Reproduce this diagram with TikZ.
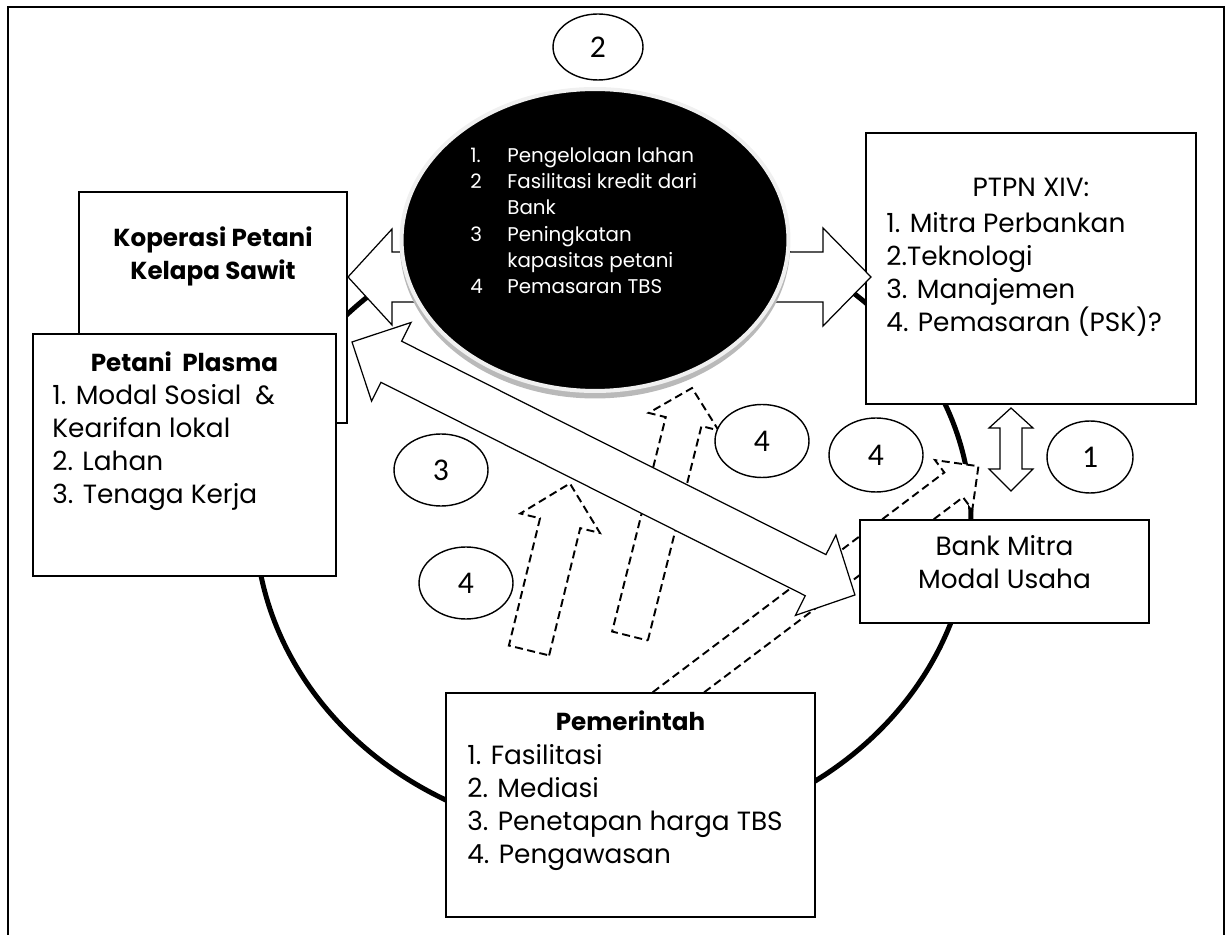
\documentclass[tikz,border=0pt]{standalone}
\usepackage{fontspec}
\setmainfont{Poppins}
\newfontfamily\numfont{Carlito}
\usetikzlibrary{positioning,shapes.geometric}

\begin{document}
\begin{tikzpicture}[x=0.02cm, y=-0.02cm,
	box/.style={draw, line width=1.1pt, fill=white, inner sep=0pt},
	boxtitle/.style={inner sep=0pt, font=\fontsize{14}{18.8}\selectfont\bfseries, align=center},
	boxtext/.style={inner sep=0pt, font=\fontsize{15}{18.8}\selectfont, align=left},
	tag/.style={draw, ellipse, line width=0.8pt, fill=white, inner sep=0pt, font=\numfont\fontsize{18}{20}\selectfont},
	blockarrow/.style={draw, line width=0.7pt, fill=white},
	dasharrow/.style={draw, line width=1.1pt, fill=white, dash pattern=on 0.16cm off 0.09cm}]
	\useasboundingbox (0,0) rectangle (1227,935);

	%% FRAME AND CYCLE
	\draw[line width=1.5pt] (8,960) -- (8,7) -- (1224,7) -- (1224,960);
	\draw[line width=0.1cm] (255,517) arc[start angle=180, end angle=0, x radius=7.16cm, y radius=6.05cm]
		arc[start angle=0, end angle=-180, x radius=7.16cm, y radius=6.4cm] -- cycle;

	%% DASHED ARROWS
	\begin{scope}[shift={(529,650.5)}, rotate=76.25]
		\draw[dasharrow] (0,20.7) -- (131,20.7) -- (131,41) -- (172,0) -- (131,-41) -- (131,-20.7) -- (0,-20.7) -- cycle;
	\end{scope}
	\begin{scope}[shift={(630,636)}, rotate=75.96]
		\draw[dasharrow] (0,18.4) -- (221,18.4) -- (221,36) -- (255.6,0) -- (221,-36) -- (221,-18.4) -- (0,-18.4) -- cycle;
	\end{scope}
	\begin{scope}[shift={(635,725)}, rotate=37]
		\draw[dasharrow] (0,15.5) -- (399,15.5) -- (399,31) -- (430,0) -- (399,-31) -- (399,-15.5) -- (0,-15.5) -- cycle;
	\end{scope}

	%% ACTORS
	\node[box, minimum width=5.36cm, minimum height=4.62cm](kop_box) at (213,307.5){};
	\node[boxtitle, below=0.7cm of kop_box.north](kop_title){Koperasi Petani\\Kelapa Sawit};

	\node[box, minimum width=6.06cm, minimum height=4.84cm](petani_box) at (184.5,455){};
	\node[boxtitle, below=0.36cm of petani_box.north](petani_title){Petani~~Plasma};
	\node[boxtext, below right=1.02cm and 0.4cm of petani_box.north west](petani_list){1. Modal Sosial~~\&\\Kearifan lokal\\2. Lahan\\3. Tenaga Kerja};

	\node[box, minimum width=6.6cm, minimum height=5.42cm](ptpn_box) at (1031,268.5){};
	\node[boxtext, below=0.92cm of ptpn_box.north](ptpn_title){PTPN XIV:};
	\node[boxtext, below right=1.6cm and 0.42cm of ptpn_box.north west](ptpn_list){1. Mitra Perbankan\\2.Teknologi\\3. Manajemen\\4. Pemasaran (PSK)?};

	\node[box, minimum width=5.78cm, minimum height=2.06cm](bank_box) at (1004.5,571.5){};
	\node[boxtext, align=center, below=0.32cm of bank_box.north](bank_text){Bank Mitra\\Modal Usaha};

	\node[box, minimum width=7.38cm, minimum height=4.48cm](gov_box) at (630.5,805){};
	\node[boxtitle, below=0.36cm of gov_box.north](gov_title){Pemerintah};
	\node[boxtext, below right=1.04cm and 0.44cm of gov_box.north west](gov_list){1. Fasilitasi\\2. Mediasi\\3. Penetapan harga TBS\\4. Pengawasan};

	%% BLOCK ARROWS
	\draw[blockarrow] (348,277) -- (392,229) -- (392,252) -- (440,252) -- (440,302) -- (392,302) -- (392,325) -- cycle;
	\draw[blockarrow] (871,277) -- (823,228) -- (823,252) -- (760,252) -- (760,302) -- (823,302) -- (823,326) -- cycle;
	\begin{scope}[shift={(352,342)}, rotate=-26.7]
		\draw[blockarrow] (0,0) -- (44,44) -- (44,23) -- (519,23) -- (519,45) -- (563,0) -- (519,-45) -- (519,-23) -- (44,-23) -- (44,-44) -- cycle;
	\end{scope}
	\draw[blockarrow] (1011,408) -- (1033,428) -- (1022,428) -- (1022,469) -- (1033,469) -- (1011,491) -- (989,469) -- (1000,469) -- (1000,428) -- (989,428) -- cycle;

	%% PROGRAMME
	\node[ellipse, fill=gray!55, minimum width=7.8cm, minimum height=6.1cm](usaha_shadow) at (595,246){};
	\node[ellipse, fill=black, draw=gray!12, line width=2.3pt, minimum width=7.74cm, minimum height=6.04cm](usaha) at (595,240){};
	\node[anchor=north west, inner sep=0pt, text=white, align=left, font=\fontsize{11.3}{15}\selectfont](usaha_list) at (470,147){%
		\makebox[0.74cm][l]{1.}Pengelolaan lahan\\
		\makebox[0.74cm][l]{2}Fasilitasi kredit dari\\
		\hspace*{0.74cm}Bank\\
		\makebox[0.74cm][l]{3}Peningkatan\\
		\hspace*{0.74cm}kapasitas petani\\
		\makebox[0.74cm][l]{4}Pemasaran TBS};

	%% NUMBER TAGS
	\node[tag, minimum width=1.8cm, minimum height=1.32cm](tag_2) at (598,47){2};
	\node[tag, minimum width=1.88cm, minimum height=1.44cm](tag_3) at (441,470){3};
	\node[tag, minimum width=1.88cm, minimum height=1.44cm](tag_4a) at (466,583){4};
	\node[tag, minimum width=1.88cm, minimum height=1.46cm](tag_4b) at (762,441){4};
	\node[tag, minimum width=1.88cm, minimum height=1.48cm](tag_4c) at (876,455){4};
	\node[tag, minimum width=1.72cm, minimum height=1.44cm](tag_1) at (1090,457){1};

\end{tikzpicture}
\end{document}
